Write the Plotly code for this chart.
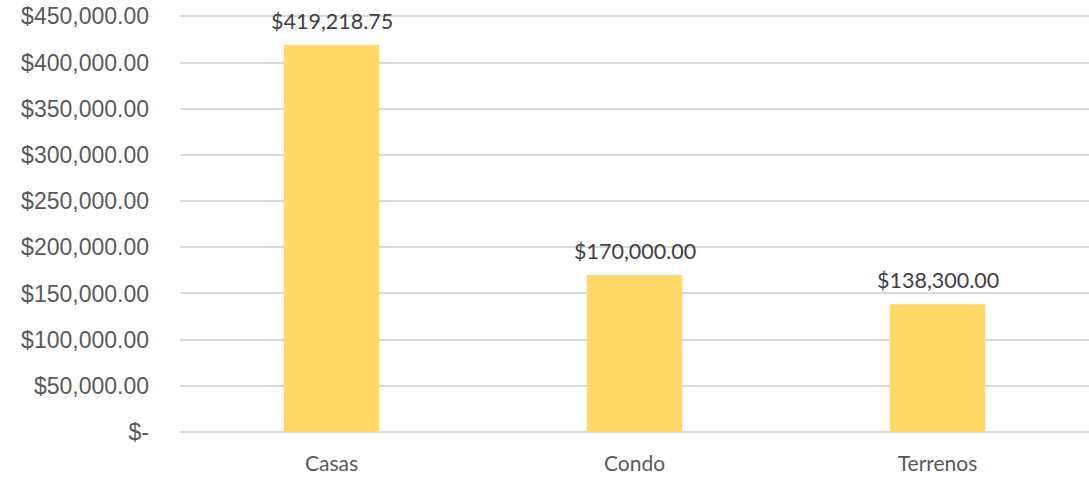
import plotly.graph_objects as go

# chart data
categories = ['Casas', 'Condo', 'Terrenos']
values = [419218.75, 170000.00, 138300.00]
value_labels = ['$419,218.75', '$170,000.00', '$138,300.00']
tick_vals = [0, 50000, 100000, 150000, 200000, 250000, 300000, 350000, 400000, 450000]
tick_text = ['$-', '$50,000.00', '$100,000.00', '$150,000.00', '$200,000.00', '$250,000.00',
             '$300,000.00', '$350,000.00', '$400,000.00', '$450,000.00']

fig = go.Figure()
fig.add_trace(go.Bar(x=categories, y=values, marker=dict(color='#FFD966', line=dict(width=0)),
                     showlegend=False, hoverinfo='skip'))

# value labels above the bars
for cat, val, lab in zip(categories, values, value_labels):
    fig.add_annotation(x=cat, y=val, text=lab, showarrow=False, yanchor='bottom', yshift=9,
                       font=dict(family='Lato', size=21.5, color='#404040'))

fig.update_layout(
    width=1089, height=478,
    margin=dict(l=180, r=0, t=15, b=46),
    plot_bgcolor='white', paper_bgcolor='white',
    bargap=0.685,
    xaxis=dict(showgrid=False, showline=False, ticks='', ticklabelstandoff=17, automargin=False,
               tickfont=dict(family='Lato', size=21, color='#595959')),
    yaxis=dict(range=[0, 451500], tickmode='array', tickvals=tick_vals, ticktext=tick_text,
               showgrid=True, gridcolor='#D9D9D9', gridwidth=1.5, zeroline=True,
               zerolinecolor='#D9D9D9', zerolinewidth=1.5, ticks='', ticklabelstandoff=30,
               automargin=False,
               tickfont=dict(family='Liberation Sans', size=23, color='#595959')),
)

# drop the default 8px body margin so the figure sits at the window corner
fig.write_html("out.html", config={'displayModeBar': False},
               post_script="document.body.style.margin = '0';")
